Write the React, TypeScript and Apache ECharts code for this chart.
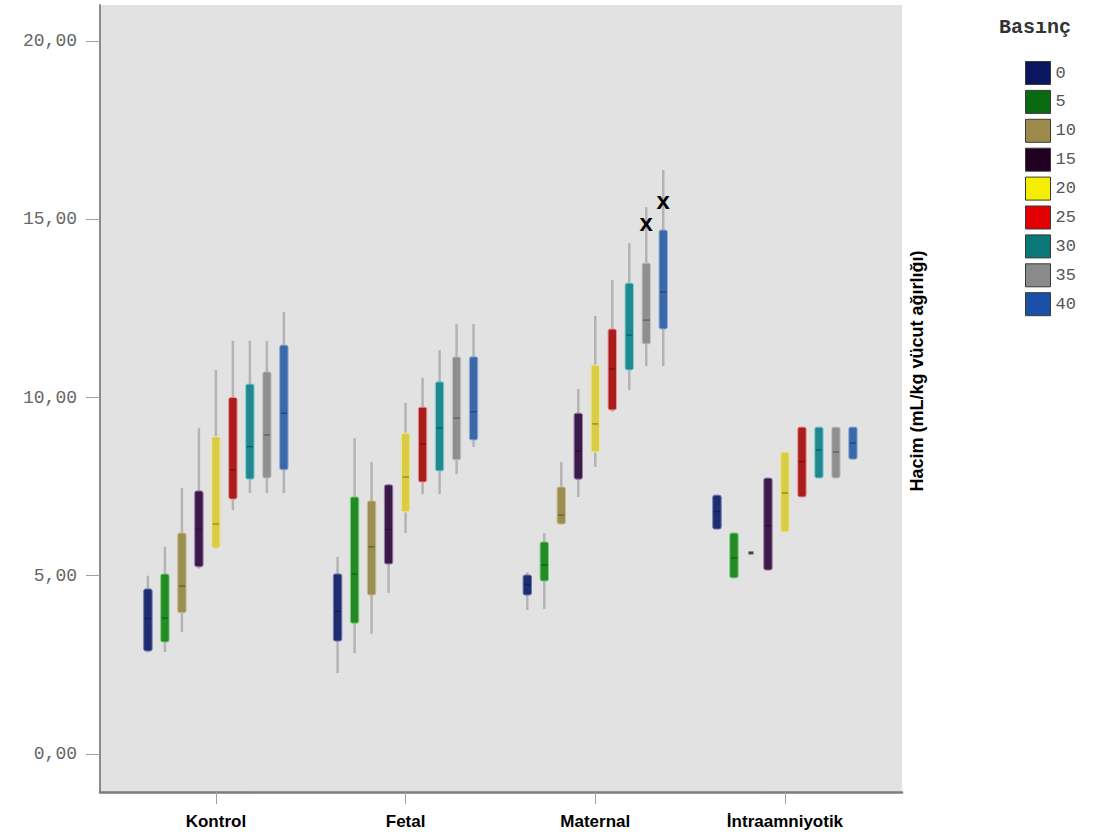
import React, { useEffect, useRef } from "react";
import * as echarts from "echarts";

// Groups along the x axis
const groups = ["Kontrol", "Fetal", "Maternal", "İntraamniyotik"];

// Pressure levels (Basınç)
const levels = ["0", "5", "10", "15", "20", "25", "30", "35", "40"];

// Box statistics per level: [groupIndex, min, q1, median, q3, max]
const level0 = [
  [0, 2.85, 2.89, 3.8, 4.63, 5.0],
  [1, 2.27, 3.17, 4.0, 5.05, 5.53],
  [2, 4.04, 4.46, 4.75, 5.02, 5.1],
  [3, 6.31, 6.31, 6.8, 7.26, 7.26],
];
const level5 = [
  [0, 2.86, 3.14, 3.81, 5.05, 5.81],
  [1, 2.83, 3.67, 5.05, 7.21, 8.86],
  [2, 4.07, 4.85, 5.3, 5.95, 6.2],
  [3, 4.94, 4.94, 5.5, 6.2, 6.2],
];
const level10 = [
  [0, 3.42, 3.96, 4.71, 6.2, 7.46],
  [1, 3.37, 4.46, 5.81, 7.1, 8.19],
  [2, 6.45, 6.45, 6.7, 7.49, 8.19],
  [3, 5.64, 5.64, 5.64, 5.64, 5.64],
];
const level15 = [
  [0, 5.2, 5.25, 6.3, 7.38, 9.14],
  [1, 4.52, 5.33, 6.3, 7.55, 7.55],
  [2, 7.21, 7.71, 8.5, 9.56, 10.24],
  [3, 5.16, 5.16, 6.4, 7.74, 7.74],
];
const level20 = [
  [0, 5.75, 5.78, 6.45, 8.9, 10.77],
  [1, 6.2, 6.79, 7.77, 9.0, 9.85],
  [2, 8.05, 8.47, 9.26, 10.91, 12.29],
  [3, 6.23, 6.23, 7.32, 8.47, 8.47],
];
const level25 = [
  [0, 6.84, 7.15, 7.97, 10.0, 11.59],
  [1, 7.29, 7.63, 8.7, 9.73, 10.55],
  [2, 9.6, 9.65, 10.8, 11.92, 13.3],
  [3, 7.21, 7.21, 8.2, 9.17, 9.17],
];
const level30 = [
  [0, 7.32, 7.71, 8.62, 10.38, 11.59],
  [1, 7.29, 7.94, 9.14, 10.44, 11.33],
  [2, 10.21, 10.77, 11.75, 13.21, 14.33],
  [3, 7.74, 7.74, 8.53, 9.17, 9.17],
];
const level35 = [
  [0, 7.32, 7.74, 8.95, 10.72, 11.59],
  [1, 7.85, 8.25, 9.42, 11.14, 12.06],
  [2, 10.88, 11.5, 12.17, 13.77, 15.34],
  [3, 7.74, 7.74, 8.47, 9.17, 9.17],
];
const level40 = [
  [0, 7.32, 7.97, 9.56, 11.47, 12.4],
  [1, 8.61, 8.81, 9.6, 11.14, 12.06],
  [2, 10.88, 11.92, 12.96, 14.7, 16.38],
  [3, 8.27, 8.27, 8.72, 9.17, 9.17],
];
const levelData = [level0, level5, level10, level15, level20, level25, level30, level35, level40];

// Extreme values: [groupIndex, levelIndex, value]
const extremes = [
  [2, 7, 14.92],
  [2, 8, 15.54],
];

// Y axis ticks
const yTicks = [0, 5, 10, 15, 20];

// Colours
const boxColors = ["#1e2d72", "#248a26", "#9b8e52", "#3b1a4a", "#d9cd45", "#a91d1d", "#1f898d", "#8f8f8f", "#3a68a8"];
const boxEdges = ["#6a78b0", "#7ccf7c", "#c9bd88", "#a07ab0", "#efe69a", "#f09090", "#7fd0d3", "#c4c4c4", "#8fb0dc"];
const legendColors = ["#0b1660", "#0a6a12", "#9c8b4a", "#220022", "#f4ef00", "#e20000", "#0a7878", "#8a8a8a", "#1a50a8"];

const SLOT = 0.0896; // horizontal spacing between levels within a group (axis units)

export default function App() {
  const ref = useRef<HTMLDivElement>(null);

  useEffect(() => {
    if (!ref.current) return;
    const chart = echarts.init(ref.current, undefined, { renderer: "svg" });

    const boxSeries = levels.map((name, s) => ({
      type: "custom",
      name,
      data: levelData[s],
      encode: { x: 0, y: [1, 2, 3, 4, 5] },
      itemStyle: { color: legendColors[s] },
      renderItem: (params: any, api: any) => {
        const x = api.value(0) + (s - 4) * SLOT;
        const pMin = api.coord([x, api.value(1)]);
        const pQ1 = api.coord([x, api.value(2)]);
        const pMed = api.coord([x, api.value(3)]);
        const pQ3 = api.coord([x, api.value(4)]);
        const pMax = api.coord([x, api.value(5)]);
        const cx = pMin[0];
        const halfW = 4.2;
        const h = pQ1[1] - pQ3[1];
        const children: any[] = [];
        if (h < 1) {
          children.push({
            type: "rect",
            shape: { x: cx - 2.5, y: pMed[1] - 1.5, width: 5, height: 3 },
            style: { fill: "#444" },
          });
          return { type: "group", children };
        }
        children.push({
          type: "line",
          shape: { x1: cx, y1: pMax[1], x2: cx, y2: pMin[1] },
          style: { stroke: "#b4b4b4", lineWidth: 2.5 },
        });
        children.push({
          type: "rect",
          shape: { x: cx - halfW, y: pQ3[1], width: halfW * 2, height: h, r: 2 },
          style: { fill: boxColors[s], stroke: boxEdges[s], lineWidth: 1 },
        });
        children.push({
          type: "line",
          shape: { x1: cx - halfW + 1, y1: pMed[1], x2: cx + halfW - 1, y2: pMed[1] },
          style: { stroke: "rgba(0,0,0,0.3)", lineWidth: 1.5 },
        });
        return { type: "group", children };
      },
      z: 2,
    }));

    const extremeSeries = {
      type: "custom",
      name: "extremes",
      data: extremes,
      encode: { x: 0, y: 2 },
      renderItem: (params: any, api: any) => {
        const x = api.value(0) + (api.value(1) - 4) * SLOT;
        const p = api.coord([x, api.value(2)]);
        return {
          type: "text",
          x: p[0],
          y: p[1],
          style: {
            text: "x",
            fill: "#000",
            font: "bold 24px 'Liberation Sans', Arial, sans-serif",
            align: "center",
            verticalAlign: "middle",
          },
        };
      },
      z: 3,
    };

    chart.setOption({
      animation: false,
      grid: {
        left: 100,
        right: 205,
        top: 5,
        bottom: 45,
        show: true,
        backgroundColor: "#e2e2e2",
        borderWidth: 0,
      },
      legend: {
        orient: "vertical",
        left: 1020,
        top: 56,
        itemWidth: 25,
        itemHeight: 23,
        itemGap: 4.9,
        icon: "rect",
        data: levels.map((name, i) => ({
          name,
          itemStyle: { color: legendColors[i], borderColor: "#3a3a3a", borderWidth: 1 },
        })),
        textStyle: { fontFamily: "'Liberation Mono', monospace", fontSize: 17, color: "#555" },
        selectedMode: false,
      },
      xAxis: {
        type: "value",
        min: -0.611,
        max: 3.617,
        axisLine: { show: true, onZero: false, lineStyle: { color: "#7c7c7c", width: 2.5 } },
        axisTick: { show: true, customValues: [0, 1, 2, 3], length: 12, lineStyle: { color: "#a0a0a0" } },
        axisLabel: {
          customValues: [0, 1, 2, 3],
          formatter: (v: number) => groups[Math.round(v)],
          margin: 21,
          fontFamily: "'Liberation Sans Narrow', 'Liberation Sans', Arial, sans-serif",
          fontWeight: "bold",
          fontSize: 17,
          color: "#000",
        },
        splitLine: { show: false },
      },
      yAxis: {
        type: "value",
        min: -1.066,
        max: 21.01,
        axisLine: { show: true, onZero: false, lineStyle: { color: "#8a8a8a", width: 2 } },
        axisTick: { show: true, customValues: yTicks, length: 14, lineStyle: { color: "#a0a0a0" } },
        axisLabel: {
          customValues: yTicks,
          formatter: (v: number) => v.toFixed(2).replace(".", ","),
          margin: 23,
          fontFamily: "'Liberation Mono', monospace",
          fontSize: 18,
          color: "#666",
        },
        splitLine: { show: false },
      },
      graphic: [
        {
          type: "text",
          left: 999,
          top: 17,
          style: {
            text: "Basınç",
            font: "bold 20px 'Liberation Mono', monospace",
            fill: "#333",
          },
        },
        {
          type: "text",
          x: 917,
          y: 371,
          rotation: Math.PI / 2,
          style: {
            text: "Hacim (mL/kg vücut ağırlığı)",
            font: "bold 18px 'Liberation Sans', Arial, sans-serif",
            fill: "#000",
            align: "center",
            verticalAlign: "middle",
          },
        },
      ],
      series: [...boxSeries, extremeSeries],
    });

    return () => chart.dispose();
  }, []);

  return (
    <div
      ref={ref}
      style={{ position: "fixed", left: 0, top: 0, width: 1107, height: 837, background: "#fff" }}
    />
  );
}
